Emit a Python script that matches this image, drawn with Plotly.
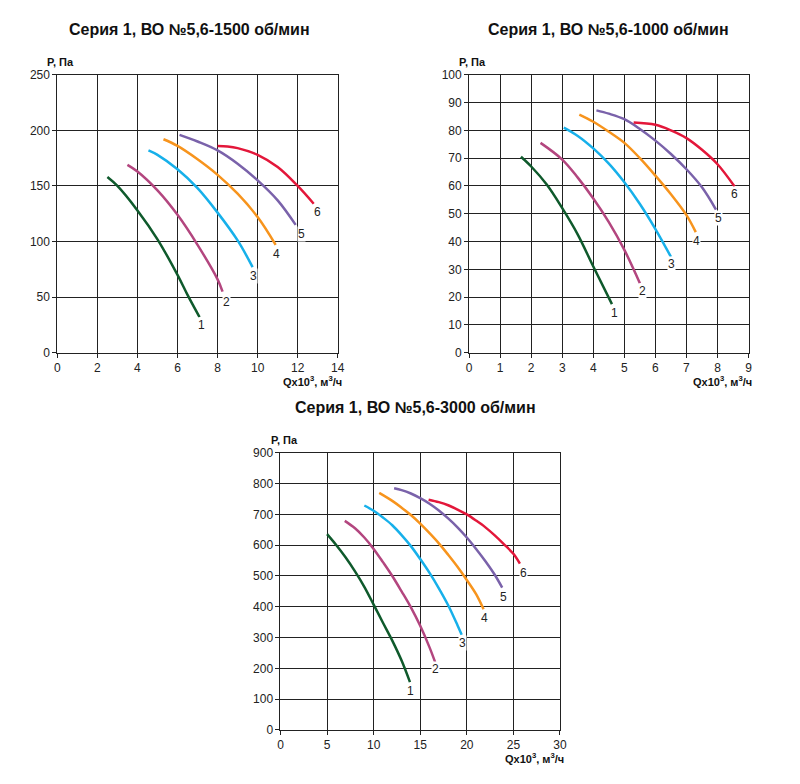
import plotly.graph_objects as go

COLORS = ["#0f5a2c", "#b3467f", "#17b0ea", "#f7941d", "#7a62aa", "#e3173a"]
CURVE_NAMES = ["1", "2", "3", "4", "5", "6"]

# ---- Chart 1: 1500 rpm ----
c1_x1 = [2.5, 3, 4, 5, 6, 6.5, 7.1]
c1_y1 = [158, 150, 128, 102, 70, 52, 32]
c1_x2 = [3.5, 4, 5, 6, 7, 8, 8.25]
c1_y2 = [169, 163, 146, 124, 97, 66, 55]
c1_x3 = [4.55, 5, 6, 7, 8, 9, 9.75]
c1_y3 = [182, 178, 165, 148, 126, 101, 77]
c1_x4 = [5.3, 6, 7, 8, 9, 10, 10.9]
c1_y4 = [192, 186, 174, 160, 143, 122, 97]
c1_x5 = [6.1, 7, 8, 9, 10, 11, 11.9]
c1_y5 = [196, 190, 182, 170, 155, 137, 115]
c1_x6 = [8, 8.5, 9, 10, 11, 12, 12.8]
c1_y6 = [186, 185.5, 184, 178, 167, 150, 134]
c1_lab_x = [7.2, 8.45, 9.8, 10.96, 12.19, 12.97]
c1_lab_y = [25, 46, 69, 89, 107, 127]

# ---- Chart 2: 1000 rpm ----
c2_x1 = [1.67, 2, 2.5, 3, 3.5, 4, 4.6]
c2_y1 = [70.5, 67, 60.5, 52, 42.5, 31, 17.5]
c2_x2 = [2.3, 3, 3.5, 4, 4.5, 5, 5.5]
c2_y2 = [75.5, 69.5, 63, 55.5, 47, 37, 25]
c2_x3 = [3.05, 3.5, 4, 4.5, 5, 5.5, 6, 6.5]
c2_y3 = [81, 78, 73.5, 68, 61.3, 53.5, 44.5, 34.5]
c2_x4 = [3.55, 4, 4.5, 5, 5.5, 6, 6.5, 7, 7.3]
c2_y4 = [85.7, 83.1, 79.5, 75.5, 70, 63.7, 57, 49.5, 43.4]
c2_x5 = [4.1, 4.5, 5, 5.5, 6, 6.5, 7, 7.5, 7.95]
c2_y5 = [87.2, 86, 84, 80.5, 76.3, 71.5, 66, 59.5, 51.5]
c2_x6 = [5.3, 6, 6.5, 7, 7.5, 8, 8.55]
c2_y6 = [82.8, 82, 80, 77.2, 73, 67.8, 59.8]
c2_lab_x = [4.68, 5.57, 6.53, 7.33, 8.02, 8.56]
c2_lab_y = [14.4, 22.3, 31.8, 40.3, 48.5, 57.1]

# ---- Chart 3: 3000 rpm ----
c3_x1 = [5, 6, 7, 8, 9, 10, 11, 12, 13, 13.9]
c3_y1 = [636, 600, 560, 515, 465, 407, 348, 290, 225, 155]
c3_x2 = [6.9, 8, 9, 10, 11, 12, 13, 14, 15, 16, 16.6]
c3_y2 = [679, 655, 625, 588, 545, 500, 450, 398, 338, 268, 220]
c3_x3 = [9, 10, 11, 12, 13, 14, 15, 16, 17, 18, 19, 19.45]
c3_y3 = [729, 712, 690, 665, 633, 597, 555, 510, 460, 405, 340, 309]
c3_x4 = [10.6, 12, 13, 14, 15, 16, 17, 18, 19, 20, 21, 21.8]
c3_y4 = [770, 744, 722, 698, 670, 639, 606, 569, 530, 487, 441, 392]
c3_x5 = [12.2, 13, 14, 15, 16, 17, 18, 19, 20, 21, 22, 23, 23.8]
c3_y5 = [785, 779, 768, 753, 735, 713, 687, 658, 625, 588, 548, 504, 462]
c3_x6 = [15.9, 17, 18, 19, 20, 21, 22, 23, 24, 25, 25.7]
c3_y6 = [748, 740, 730, 716, 700, 680, 658, 632, 603, 572, 540]
c3_lab_x = [13.94, 16.66, 19.55, 21.9, 23.9, 26.05]
c3_lab_y = [127, 199, 282, 365, 431, 510]

TITLES = ["Серия 1, ВО №5,6-1500 об/мин",
          "Серия 1, ВО №5,6-1000 об/мин",
          "Серия 1, ВО №5,6-3000 об/мин"]
Y_TITLE = "P, Па"
X_TITLE = "Qx10<sup>3</sup>, м<sup>3</sup>/ч"

charts = [
    dict(xs=[c1_x1, c1_x2, c1_x3, c1_x4, c1_x5, c1_x6],
         ys=[c1_y1, c1_y2, c1_y3, c1_y4, c1_y5, c1_y6],
         lx=c1_lab_x, ly=c1_lab_y, xr=[0, 14], xd=2, yr=[0, 250], yd=50,
         dom_x=[55 / 800, 339 / 800], dom_y=[1 - 352 / 784, 1 - 69 / 784], tx=189),
    dict(xs=[c2_x1, c2_x2, c2_x3, c2_x4, c2_x5, c2_x6],
         ys=[c2_y1, c2_y2, c2_y3, c2_y4, c2_y5, c2_y6],
         lx=c2_lab_x, ly=c2_lab_y, xr=[0, 9], xd=1, yr=[0, 100], yd=10,
         dom_x=[472 / 800, 755 / 800], dom_y=[1 - 352 / 784, 1 - 69 / 784], tx=613),
    dict(xs=[c3_x1, c3_x2, c3_x3, c3_x4, c3_x5, c3_x6],
         ys=[c3_y1, c3_y2, c3_y3, c3_y4, c3_y5, c3_y6],
         lx=c3_lab_x, ly=c3_lab_y, xr=[0, 30], xd=5, yr=[0, 900], yd=100,
         dom_x=[281 / 800, 564 / 800], dom_y=[1 - 736 / 784, 1 - 454 / 784], tx=418),
]

FONT = "Liberation Sans, Arial, sans-serif"
fig = go.Figure()
annotations = []
layout_axes = {}

for i, ch in enumerate(charts):
    n = i + 1
    xa = "x" if n == 1 else f"x{n}"
    ya = "y" if n == 1 else f"y{n}"
    for k in range(6):
        fig.add_trace(go.Scatter(
            x=ch["xs"][k], y=ch["ys"][k], mode="lines",
            line=dict(color=COLORS[k], width=2.5, shape="spline", smoothing=1.0),
            xaxis=xa, yaxis=ya, showlegend=False, hoverinfo="skip"))
        annotations.append(dict(
            x=ch["lx"][k], y=ch["ly"][k], xref=xa, yref=ya, text=CURVE_NAMES[k],
            showarrow=False, bgcolor="white", borderpad=0,
            font=dict(family=FONT, size=12, color="#222")))
    axis_common = dict(showgrid=True, gridcolor="#222", gridwidth=1,
                       showline=True, linecolor="#222", linewidth=1, mirror=True,
                       ticks="outside", ticklen=4, tickcolor="#222", zeroline=False,
                       tickfont=dict(family=FONT, size=12, color="#222"),
                       fixedrange=True)
    layout_axes["xaxis" if n == 1 else f"xaxis{n}"] = dict(
        axis_common, domain=ch["dom_x"], range=ch["xr"], dtick=ch["xd"], tick0=0,
        anchor=ya)
    layout_axes["yaxis" if n == 1 else f"yaxis{n}"] = dict(
        axis_common, domain=ch["dom_y"], range=ch["yr"], dtick=ch["yd"], tick0=0,
        anchor=xa)
    x0, x1 = ch["dom_x"]
    y0, y1 = ch["dom_y"]
    # chart title
    annotations.append(dict(
        x=ch["tx"] / 800, y=y1 + 46 / 784, xref="paper", yref="paper",
        text=f"<b>{TITLES[i]}</b>", showarrow=False, xanchor="center", yanchor="middle",
        font=dict(family=FONT, size=16, color="#111")))
    # y title
    annotations.append(dict(
        x=x0 - 12 / 800, y=y1 + 13 / 784, xref="paper", yref="paper",
        text=f"<b>{Y_TITLE}</b>", showarrow=False, xanchor="left", yanchor="middle",
        font=dict(family=FONT, size=11, color="#111")))
    # x title
    annotations.append(dict(
        x=x1 + 6 / 800, y=y0 - 29 / 784, xref="paper", yref="paper",
        text=f"<b>{X_TITLE}</b>", showarrow=False, xanchor="right", yanchor="middle",
        font=dict(family=FONT, size=11, color="#111")))

fig.update_layout(
    width=800, height=784, margin=dict(l=0, r=0, t=0, b=0),
    paper_bgcolor="white", plot_bgcolor="white",
    annotations=annotations, **layout_axes)

fig.write_html("out.html", config={"displayModeBar": False},
               post_script="document.body.style.margin='0';document.body.style.overflow='hidden';")
